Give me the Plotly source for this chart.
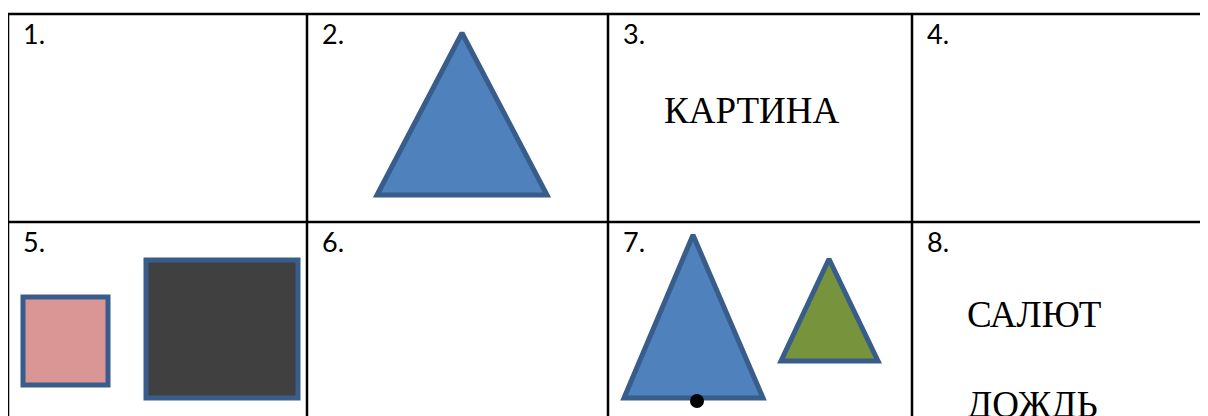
import plotly.graph_objects as go

# table grid (page pixels)
col_left = [8, 307, 608, 912]
row_top = [14, 222]
cell_labels = ["1.", "2.", "3.", "4.", "5.", "6.", "7.", "8."]

# cell 2: blue triangle
tri2_x = [377, 462, 547, 377]
tri2_y = [195, 33, 195, 195]

# cell 3: word
word3 = "КАРТИНА"
word3_pos = (751, 110)

# cell 5: pink and dark squares
sq_small_x = [23, 108, 108, 23, 23]
sq_small_y = [297, 297, 385, 385, 297]
sq_big_x = [146, 298, 298, 146, 146]
sq_big_y = [260, 260, 398, 398, 260]

# cell 7: blue and green triangles, black dot
tri7a_x = [624, 693, 763, 624]
tri7a_y = [398, 235, 398, 398]
tri7b_x = [781, 829, 878, 781]
tri7b_y = [361, 259, 361, 361]
dot7 = ([697], [401])

# cell 8: words
words8 = ["САЛЮТ", "ДОЖДЬ"]
words8_pos = [(965, 314), (965, 404)]

W, H = 1208, 416
OFF = 8  # default body margin of the html page
edge = "#385D8A"
fig = go.Figure()


def poly(xs, ys, fill):
    # run past the first corner again so the outline joins cleanly there
    fig.add_trace(go.Scatter(x=xs + xs[1:2], y=ys + ys[1:2], mode="lines",
                             fill="toself", fillcolor=fill,
                             line=dict(color=edge, width=5),
                             hoverinfo="skip", showlegend=False))


poly(tri2_x, tri2_y, "#4F81BD")
poly(sq_small_x, sq_small_y, "#D99694")
poly(sq_big_x, sq_big_y, "#404040")
poly(tri7a_x, tri7a_y, "#4F81BD")
poly(tri7b_x, tri7b_y, "#77933C")
fig.add_trace(go.Scatter(x=dot7[0], y=dot7[1], mode="markers",
                         marker=dict(color="black", size=14),
                         hoverinfo="skip", showlegend=False))

# grid lines
for y in row_top:
    fig.add_shape(type="line", x0=col_left[0], x1=W + 20, y0=y, y1=y,
                  line=dict(color="black", width=2.5))
for x in col_left:
    fig.add_shape(type="line", x0=x, x1=x, y0=row_top[0], y1=H + 20,
                  line=dict(color="black", width=2.5))

# cell numbers
for i, lab in enumerate(cell_labels):
    r, c = divmod(i, 4)
    fig.add_annotation(x=col_left[c] + 13, y=row_top[r] + 1, text=lab,
                       xanchor="left", yanchor="top", showarrow=False,
                       font=dict(family="Lato", size=27, color="black"))

serif = dict(family="Liberation Serif", size=37, color="black")
fig.add_annotation(x=word3_pos[0], y=word3_pos[1], text=word3,
                   xanchor="center", yanchor="middle", showarrow=False, font=serif)
for w, (x, y) in zip(words8, words8_pos):
    fig.add_annotation(x=x, y=y, text=w, xanchor="left", yanchor="middle",
                       showarrow=False, font=serif)

fig.update_layout(width=W, height=H, margin=dict(l=0, r=0, t=0, b=0),
                  plot_bgcolor="white", paper_bgcolor="white")
fig.update_xaxes(range=[OFF, W + OFF], visible=False, fixedrange=True)
fig.update_yaxes(range=[H + OFF, OFF], visible=False, fixedrange=True)

fig.write_html("out.html")
